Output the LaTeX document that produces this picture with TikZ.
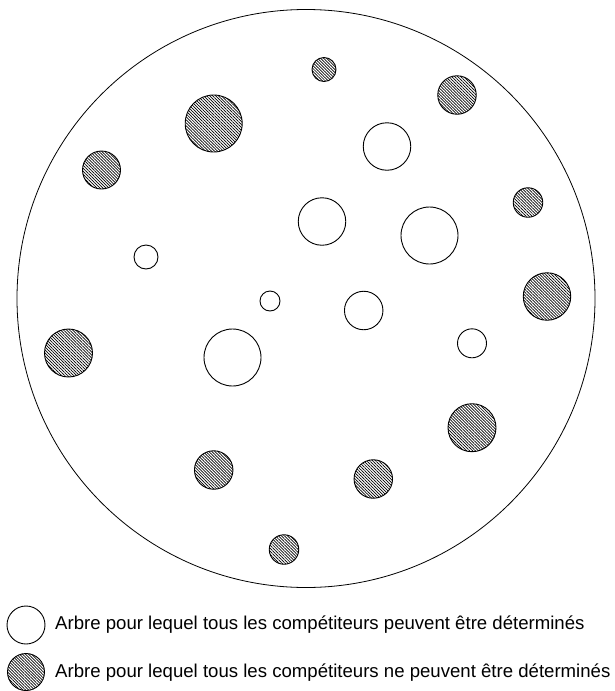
\documentclass[tikz,border=0pt]{standalone}
\usepackage{fontspec}
\setmainfont{Liberation Sans}
\usetikzlibrary{patterns.meta}
\begin{document}
\begin{tikzpicture}[x=1pt,y=-1pt,
  tree/.style={circle,draw=black,line width=0.9pt,inner sep=0pt,minimum size=#1},
  hatched/.style={tree=#1,pattern={Lines[angle=-45,distance=2.1pt,line width=0.7pt]}},
  plain/.style={tree=#1,fill=white},
  legendtext/.style={anchor=west,inner sep=0pt,font=\fontsize{18.6}{20}\selectfont}]
\useasboundingbox (0,0) rectangle (614,691);
\node[circle,draw=black,line width=0.8pt,inner sep=0pt,minimum size=578pt] (forest) at (306,298.5) {};
% hatched trees
\node[hatched=24pt] (h1) at (324,69.5) {};
\node[hatched=38.5pt] (h2) at (457,95) {};
\node[hatched=57pt] (h3) at (213.7,123.5) {};
\node[hatched=38pt] (h4) at (101.5,170) {};
\node[hatched=29.5pt] (h5) at (528,202.5) {};
\node[hatched=47.5pt] (h6) at (547,296.5) {};
\node[hatched=48pt] (h7) at (68.5,353) {};
\node[hatched=48pt] (h8) at (472,427.7) {};
\node[hatched=38.5pt] (h9) at (213.7,470) {};
\node[hatched=38.5pt] (h10) at (373.3,479) {};
\node[hatched=29.5pt] (h11) at (284,549.5) {};
% plain trees
\node[plain=47.5pt] (w1) at (387,146.5) {};
\node[plain=47.5pt] (w2) at (322,221.5) {};
\node[plain=57pt] (w3) at (429.5,235.5) {};
\node[plain=24pt] (w4) at (146,257) {};
\node[plain=20pt] (w5) at (270,301) {};
\node[plain=38.5pt] (w6) at (363.7,310.5) {};
\node[plain=29pt] (w7) at (472,343.3) {};
\node[plain=57pt] (w8) at (232.5,357.5) {};
% legend
\node[plain=38pt] (lw) at (26,625) {};
\node[legendtext] (lwt) at (55,625) {Arbre pour lequel tous les compétiteurs peuvent être déterminés};
\node[hatched=37pt] (lh) at (26,672) {};
\node[legendtext] (lht) at (55,673) {Arbre pour lequel tous les compétiteurs ne peuvent être déterminés};
\end{tikzpicture}
\end{document}
